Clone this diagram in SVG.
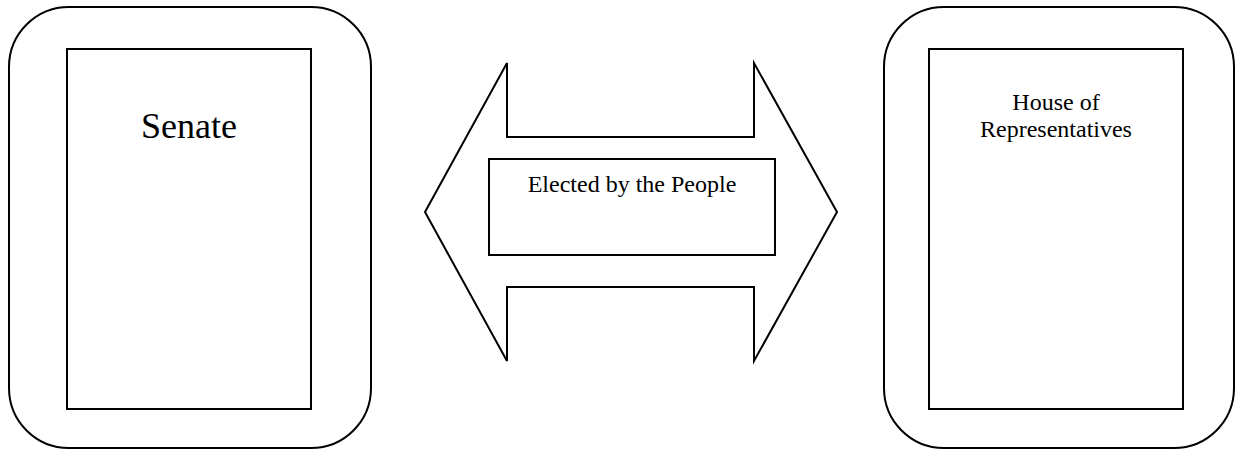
<svg xmlns="http://www.w3.org/2000/svg" width="1237" height="452" viewBox="0 0 1237 452">
<style>
.s{fill:#fff;stroke:#000;stroke-width:2}
.t{font-family:"Liberation Serif","Times New Roman",serif;fill:#000;text-anchor:middle}
</style>
<rect width="1237" height="452" fill="#fff"/>
<g id="senate">
<rect class="s" x="9" y="7" width="362" height="441" rx="60" ry="60"/>
<rect class="s" x="67" y="49" width="244" height="360"/>
<text class="t" x="189" y="138" font-size="36">Senate</text>
</g>
<g id="connectors">
<polygon class="s" points="425,212 507,63 507,137 754,137 754,63 837,212 754,361 754,287 507,287 507,361"/>
</g>
<g id="elected">
<rect class="s" x="489" y="159" width="286" height="96"/>
<text class="t" x="632" y="192" font-size="24">Elected by the People</text>
</g>
<g id="house">
<rect class="s" x="884" y="7" width="350" height="441" rx="60" ry="60"/>
<rect class="s" x="929" y="49" width="254" height="360"/>
<text class="t" x="1056" y="110" font-size="24">House of</text>
<text class="t" x="1056" y="137" font-size="24">Representatives</text>
</g>
</svg>
